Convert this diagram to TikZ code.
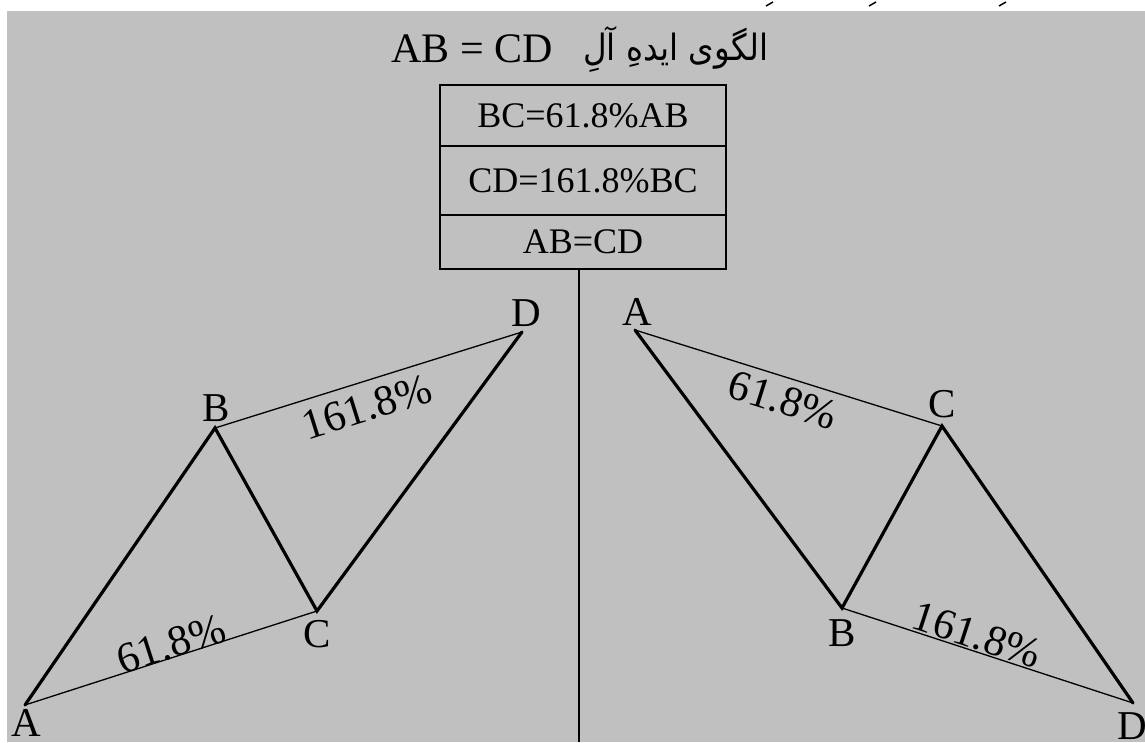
\documentclass[tikz,border=0pt]{standalone}
\usepackage{fontspec}
\setmainfont{Liberation Serif}
\newfontfamily\arabicfont[Script=Arabic]{DejaVu Sans}
\TeXXeTstate=1
\definecolor{bggray}{HTML}{C0C0C0}
\begin{document}
\begin{tikzpicture}[x=1pt,y=-1pt,
  zig/.style={line width=3.2pt, line join=miter, line cap=round},
  rule/.style={line width=1.3pt},
  vlabel/.style={font=\fontsize{41}{41}\selectfont, inner sep=0},
  ratio/.style={font=\fontsize{43}{43}\selectfont, inner sep=0},
  cell/.style={draw, line width=2.5pt, minimum width=286pt, inner sep=0,
    font=\fontsize{36}{36}\selectfont}]
\useasboundingbox (0,0) rectangle (1145,742);
\fill[white] (0,0) rectangle (1145,742);
\fill[bggray] (7,11) rectangle (1145,742);
% stray marks at the very top
\draw[line width=1.5pt] (766,6) -- (773,2);
\draw[line width=1.5pt] (869,6) -- (876,2);
\draw[line width=1.5pt] (999,6) -- (1006,2);
% title
\node[anchor=base west, inner sep=0, font=\fontsize{42}{42}\selectfont] (title) at (391,62) {AB = CD};
\node[anchor=base west, inner sep=0] (ptitle) at (583,60)
  {\resizebox{185pt}{34pt}{\arabicfont\fontsize{30}{30}\selectfont\beginR الگوی ایدهِ آلِ\endR}};
% box
\node[cell, minimum height=61pt] (r1) at (583,115.5) {BC=61.8\%AB};
\node[cell, minimum height=69pt] (r2) at (583,180.5) {CD=161.8\%BC};
\node[cell, minimum height=54pt] (r3) at (583,242) {AB=CD};
\coordinate (vbot) at (579,742);
\draw[line width=1.8pt] (vbot) -- (vbot |- r3.south);
% left pattern
\coordinate (LA) at (25,705);
\coordinate (LB) at (215,428);
\coordinate (LC) at (317,611);
\coordinate (LD) at (522,332);
\draw[zig] (LA) -- (LB) -- (LC) -- (LD);
\draw[rule] (LA) -- (LC);
\draw[rule] (LB) -- (LD);
\node[vlabel] (lA) at (26,723) {A};
\node[vlabel] (lB) at (216,408) {B};
\node[vlabel] (lC) at (317,634) {C};
\node[vlabel] (lD) at (526,313) {D};
\node[ratio, rotate=17.8] (lAC) at (171,644) {61.8\%};
\node[ratio, rotate=17.4] (lBD) at (367,407) {161.8\%};
% right pattern
\coordinate (RA) at (635,330);
\coordinate (RC) at (942,426);
\coordinate (RB) at (842,608);
\coordinate (RD) at (1133,703);
\draw[zig] (RA) -- (RB) -- (RC) -- (RD);
\draw[rule] (RA) -- (RC);
\draw[rule] (RB) -- (RD);
\node[vlabel] (rA) at (637,312) {A};
\node[vlabel] (rC) at (942,404) {C};
\node[vlabel] (rB) at (842,633) {B};
\node[vlabel] (rD) at (1132,726) {D};
\node[ratio, rotate=-17.5] (rAC) at (783,400) {61.8\%};
\node[ratio, rotate=-18.1] (rBD) at (977,635) {161.8\%};
\end{tikzpicture}
\end{document}
